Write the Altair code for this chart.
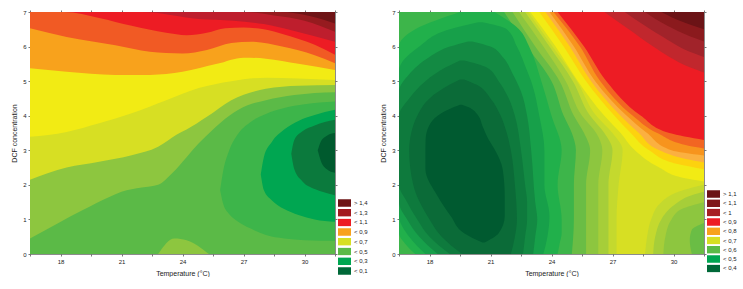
import altair as alt
import pandas as pd

XDOM = [16.5, 31.5]
YDOM = [0, 7]
X_TICKS = [16.5, 18, 19.5, 21, 22.5, 24, 25.5, 27, 28.5, 30, 31.5]
Y_TICKS = [0, 1, 2, 3, 4, 5, 6, 7]

# ---------------- left panel: contour boundaries (temperature -> DCF) ----------
L_LG_X = [16.5, 17.9, 19.1, 20.4, 21.0, 22.0, 22.8, 23.5, 24.2, 24.8, 25.5, 26.3, 27.2, 28.1, 29.5, 31.5]
L_LG_Y = [0.45, 0.9, 1.27, 1.65, 1.8, 1.92, 2.0, 2.34, 2.8, 3.2, 3.6, 4.0, 4.3, 4.45, 4.6, 4.68]
L_TRI_X = [22.8, 23.6, 24.2, 25.3]
L_TRI_Y = [0.0, 0.45, 0.4, 0.0]
L_YG_X = [16.5, 18.3, 19.9, 21.5, 22.8, 23.7, 24.2, 25.2, 26.4, 28.1, 29.7, 31.5]
L_YG_Y = [2.15, 2.5, 2.67, 2.86, 3.1, 3.45, 3.6, 3.97, 4.45, 4.78, 4.87, 4.89]
L_Y_X = [16.5, 18.3, 19.9, 21.5, 23.2, 24.8, 26.4, 28.1, 29.7, 31.5]
L_Y_Y = [3.39, 3.53, 3.78, 4.07, 4.45, 4.8, 5.0, 5.1, 5.08, 5.03]
L_O_X = [16.5, 18.3, 20.7, 22.4, 24.0, 25.7, 27.0, 28.1, 29.7, 31.5]
L_O_Y = [5.37, 5.27, 5.18, 5.18, 5.27, 5.5, 5.68, 5.65, 5.5, 5.32]
L_OR_X = [16.5, 18.3, 20.7, 22.4, 24.0, 25.2, 26.4, 27.4, 28.9, 30.5, 31.5]
L_OR_Y = [6.53, 6.28, 6.04, 5.85, 5.8, 5.9, 6.1, 6.14, 6.0, 5.75, 5.52]
L_R_X = [16.5, 18.2, 19.9, 21.5, 23.2, 24.2, 25.2, 26.1, 27.0, 28.0, 29.0, 30.5, 31.5]
L_R_Y = [7.0, 7.0, 6.83, 6.6, 6.4, 6.33, 6.4, 6.53, 6.55, 6.5, 6.35, 6.05, 5.76]
L_C_X = [16.5, 22.0, 24.8, 26.5, 28.0, 29.5, 31.5]
L_C_Y = [7.0, 7.0, 6.8, 6.75, 6.65, 6.45, 6.14]
L_D1_X = [16.5, 27.0, 28.5, 30.0, 31.5]
L_D1_Y = [7.0, 7.0, 6.9, 6.75, 6.43]
L_D2_X = [16.5, 28.8, 30.3, 31.5]
L_D2_Y = [7.0, 7.0, 6.88, 6.67]
# low-value pockets on the right side (x, lower edge, upper edge)
L_B1_X = [25.85, 26.0, 26.3, 26.7, 27.3, 28.1, 29.0, 30.0, 31.5]
L_B1_LO = [1.85, 1.45, 1.15, 0.95, 0.75, 0.55, 0.45, 0.4, 0.38]
L_B1_HI = [1.85, 2.4, 3.0, 3.45, 3.8, 4.05, 4.22, 4.33, 4.41]
L_B2_X = [27.85, 28.0, 28.4, 29.0, 29.7, 30.5, 31.5]
L_B2_LO = [2.3, 1.85, 1.55, 1.3, 1.13, 1.0, 0.93]
L_B2_HI = [2.3, 2.8, 3.25, 3.6, 3.85, 4.02, 4.17]
L_B3_X = [29.35, 29.5, 29.9, 30.5, 31.0, 31.5]
L_B3_LO = [2.9, 2.45, 2.1, 1.88, 1.78, 1.7]
L_B3_HI = [2.9, 3.3, 3.55, 3.72, 3.82, 3.88]
L_B4_X = [30.65, 30.8, 31.1, 31.5]
L_B4_LO = [3.0, 2.7, 2.45, 2.35]
L_B4_HI = [3.0, 3.25, 3.42, 3.5]

L_LEG_LABELS = ["> 1,4", "< 1,3", "< 1,1", "< 0,9", "< 0,7", "< 0,5", "< 0,3", "< 0,1"]
L_LEG_COLORS = ["#6E1416", "#A3191F", "#ED1C24", "#F8A21C", "#D7DF23", "#5BBA47", "#00A651", "#006838"]

# ---------------- right panel (DCF -> temperature boundaries) -----------------
R_GY = [0, 1, 2, 3, 3.5, 4, 5, 6, 7]
R_K10 = [27.2, 27.2, 27.3, 27.5, 27.0, 26.2, 25.25, 24.05, 22.85]
R_K9 = [26.8, 26.8, 26.8, 27.0, 26.6, 25.9, 25.05, 23.9, 22.7]
R_K8 = [26.3, 26.3, 26.3, 26.5, 26.2, 25.5, 24.7, 23.6, 22.4]
R_K7 = [25.7, 25.7, 25.7, 25.9, 25.6, 25.1, 24.4, 23.2, 22.08]
R_K6 = [25.0, 25.1, 25.1, 25.2, 25.0, 24.6, 24.0, 22.8, 21.67]
R_K5_Y = [0, 0.3, 0.6, 1, 2, 3, 4, 5, 6, 6.5, 7]
R_K5_L = [17.3, 16.8, 16.5, 16.5, 16.5, 16.5, 16.5, 16.5, 16.5, 17.3, 19.5]
R_K5_R = [24.3, 24.4, 24.5, 24.5, 24.3, 24.5, 24.0, 23.5, 22.9, 22.4, 21.2]
R_K4_Y = [0, 0.5, 1.1, 2, 3, 4, 5, 5.3, 6.0, 6.5, 6.7]
R_K4_L = [17.8, 17.0, 16.5, 16.5, 16.5, 16.5, 16.5, 16.5, 17.5, 19.0, 20.4]
R_K4_R = [23.6, 23.8, 23.9, 23.65, 23.65, 23.4, 23.0, 22.8, 22.3, 21.8, 20.6]
R_K3_Y = [0, 0.5, 1.0, 1.5, 3, 4, 4.7, 5.2, 5.7, 6.0, 6.15]
R_K3_L = [18.4, 17.5, 16.9, 16.5, 16.5, 16.5, 16.5, 17.0, 18.0, 19.0, 19.9]
R_K3_R = [23.1, 23.2, 23.3, 23.2, 23.0, 22.8, 22.5, 22.1, 21.6, 21.0, 20.1]
R_K2_Y = [0, 0.5, 1, 1.5, 2, 3, 4, 4.5, 5, 5.4, 5.6]
R_K2_L = [19.0, 18.0, 17.4, 16.9, 16.5, 16.5, 16.5, 17.0, 17.8, 18.8, 19.5]
R_K2_R = [22.6, 22.7, 22.8, 22.8, 22.7, 22.5, 22.2, 21.9, 21.4, 20.8, 19.7]
R_K1_Y = [0, 0.5, 1, 2, 3, 3.5, 4, 4.5, 4.9, 5.05]
R_K1_L = [19.6, 18.6, 18.0, 17.2, 17.0, 17.1, 17.4, 18.0, 19.0, 19.5]
R_K1_R = [22.0, 22.2, 22.3, 22.2, 22.0, 21.8, 21.5, 21.0, 20.3, 19.7]
R_K0_Y = [0.33, 0.6, 1.09, 1.67, 2.45, 3.03, 3.32, 3.71, 4.0, 4.25, 4.32]
R_K0_L = [20.6, 19.7, 19.05, 18.4, 17.8, 17.8, 17.81, 17.98, 18.4, 19.2, 19.5]
R_K0_R = [20.7, 21.4, 21.7, 21.7, 21.6, 21.2, 20.9, 20.6, 20.4, 19.9, 19.6]
# high-value side (left edge of region, region extends to 31.5)
R_YEL_Y = [2.1, 2.2, 2.5, 3.0, 3.5, 4.0, 5.0, 6.0, 7.0]
R_YEL_L = [31.5, 30.5, 29.3, 28.1, 27.4, 26.6, 25.3, 24.2, 22.96]
R_GOLD_Y = [2.45, 2.6, 3.0, 3.5, 4.0, 5.0, 6.0, 7.0]
R_GOLD_L = [31.5, 30.2, 28.8, 27.9, 27.1, 25.7, 24.6, 23.4]
R_LOR_Y = [2.65, 2.75, 3.0, 3.5, 4.0, 5.0, 6.0, 7.0]
R_LOR_L = [31.5, 30.6, 29.3, 28.3, 27.4, 25.95, 24.9, 23.7]
R_ORG_Y = [2.85, 3.0, 3.5, 4.0, 5.0, 6.0, 7.0]
R_ORG_L = [31.5, 29.9, 28.7, 27.7, 26.15, 25.1, 23.9]
R_ORR_Y = [3.05, 3.1, 3.5, 4.0, 5.0, 6.0, 7.0]
R_ORR_L = [31.5, 31.0, 29.2, 28.0, 26.4, 25.4, 24.1]
R_RED_Y = [3.3, 3.5, 4.0, 5.0, 6.0, 7.0]
R_RED_L = [31.5, 29.8, 28.4, 26.7, 25.6, 24.3]
R_D1_Y = [5.25, 5.4, 5.7, 6.0, 6.5, 7.0]
R_D1_L = [31.5, 30.8, 29.8, 29.0, 27.8, 26.6]
R_D2_Y = [5.7, 5.85, 6.2, 6.6, 7.0]
R_D2_L = [31.5, 30.8, 29.7, 28.6, 27.6]
R_D3_Y = [6.15, 6.3, 6.6, 7.0]
R_D3_L = [31.5, 30.8, 29.7, 28.6]
R_D4_Y = [6.5, 6.7, 7.0]
R_D4_L = [31.5, 30.5, 29.4]
# bottom-right pocket
R_P1_Y = [0, 0.5, 1.0, 1.5, 1.85, 2.0]
R_P1_L = [28.6, 28.7, 28.9, 29.4, 30.5, 31.5]
R_P2_Y = [0, 0.5, 1.0, 1.4, 1.7, 1.8]
R_P2_L = [29.0, 29.1, 29.4, 30.0, 30.9, 31.5]
R_P3_Y = [0, 0.5, 1.0, 1.3, 1.5]
R_P3_L = [29.5, 29.6, 29.9, 30.4, 31.5]
R_P4_Y = [0, 0.4, 0.7, 0.9]
R_P4_L = [30.9, 30.8, 30.9, 31.5]

R_LEG_LABELS = ["> 1,1", "< 1,1", "< 1", "< 0,9", "< 0,8", "< 0,7", "< 0,6", "< 0,5", "< 0,4"]
R_LEG_COLORS = ["#6B1316", "#7F171A", "#A61E23", "#ED1C24", "#F8A21C", "#D7DF23", "#5BBA47", "#00A651", "#006838"]

FONT = "Liberation Sans"
xs = alt.Scale(domain=XDOM, nice=False, zero=False)
ys = alt.Scale(domain=YDOM, nice=False, zero=False)


def varea(xv, lo, hi, color):
    df = pd.DataFrame({"t": xv, "lo": lo, "hi": hi})
    return alt.Chart(df).mark_area(color=color, interpolate="monotone", clip=True,
                                   orient="vertical").encode(
        x=alt.X("t:Q", scale=xs, axis=None),
        y=alt.Y("lo:Q", scale=ys, axis=None),
        y2="hi:Q")


def harea(yv, xl, xr, color):
    df = pd.DataFrame({"t": yv, "xl": xl, "xr": xr})
    return alt.Chart(df).mark_area(color=color, interpolate="monotone", clip=True,
                                   orient="horizontal").encode(
        y=alt.Y("t:Q", scale=ys, axis=None),
        x=alt.X("xl:Q", scale=xs, axis=None),
        x2="xr:Q")


def frame_layers(bg_color):
    df = pd.DataFrame({"t": XDOM, "lo": [0, 0], "hi": [7, 7]})
    main = alt.Chart(df).mark_area(color=bg_color, orient="vertical").encode(
        x=alt.X("t:Q", scale=xs, axis=alt.Axis(
            values=X_TICKS, title="Temperature (°C)",
            labelExpr="datum.value % 3 == 0 ? format(datum.value, 'd') : ''",
            labelFlush=False, labelOverlap=False)),
        y=alt.Y("lo:Q", scale=ys, axis=alt.Axis(values=Y_TICKS, format="d",
                                                  title="DCF concentration")),
        y2="hi:Q")
    mirror = alt.Chart(df).mark_area(color=bg_color, orient="vertical", opacity=0).encode(
        x=alt.X("t:Q", scale=xs, axis=alt.Axis(values=X_TICKS, orient="top",
                                                 labels=False, title=None)),
        y=alt.Y("lo:Q", scale=ys, axis=alt.Axis(values=Y_TICKS, orient="right",
                                                  labels=False, title=None)),
        y2="hi:Q")
    return main, mirror


def legend_layer(labels, colors, lx, ly, clip_h, row_pad):
    df = pd.DataFrame({"lab": labels, "px": [24.0] * len(labels), "py": [3.0] * len(labels)})
    return alt.Chart(df).mark_square(filled=True, opacity=1).encode(
        x=alt.X("px:Q", scale=xs, axis=None),
        y=alt.Y("py:Q", scale=ys, axis=None),
        color=alt.Color("lab:N", scale=alt.Scale(domain=labels, range=colors),
                        legend=alt.Legend(
                            title=None, orient="none", legendX=lx, legendY=ly,
                            symbolType="M-1,-0.58H1V0.58H-1Z", symbolSize=169,
                            symbolStrokeWidth=0, symbolOpacity=1, labelFont=FONT,
                            labelFontSize=6, labelColor="#222222", labelOffset=3,
                            clipHeight=clip_h, rowPadding=row_pad, padding=0)))


# ---------------- left chart ----------------
l_main, l_mirror = frame_layers("#5BBA47")
left_layers = [
    legend_layer(L_LEG_LABELS, L_LEG_COLORS, 308, 187, 8, 1.7),
    l_main,
    varea(L_TRI_X, [0] * len(L_TRI_X), L_TRI_Y, "#8DC63F"),
    varea(L_LG_X, L_LG_Y, [7] * len(L_LG_X), "#8DC63F"),
    varea(L_YG_X, L_YG_Y, [7] * len(L_YG_X), "#D7DF23"),
    varea(L_Y_X, L_Y_Y, [7] * len(L_Y_X), "#F2EB14"),
    varea(L_O_X, L_O_Y, [7] * len(L_O_X), "#F8A21C"),
    varea(L_OR_X, L_OR_Y, [7] * len(L_OR_X), "#F15A24"),
    varea(L_R_X, L_R_Y, [7] * len(L_R_X), "#ED1C24"),
    varea(L_C_X, L_C_Y, [7] * len(L_C_X), "#BE1E2D"),
    varea(L_D1_X, L_D1_Y, [7] * len(L_D1_X), "#961B1F"),
    varea(L_D2_X, L_D2_Y, [7] * len(L_D2_X), "#6E1416"),
    varea(L_B1_X, L_B1_LO, L_B1_HI, "#3DB54A"),
    varea(L_B2_X, L_B2_LO, L_B2_HI, "#00A651"),
    varea(L_B3_X, L_B3_LO, L_B3_HI, "#0B7A3D"),
    varea(L_B4_X, L_B4_LO, L_B4_HI, "#005A2E"),
    l_mirror,
]
left = alt.layer(*left_layers).resolve_axis(x="independent", y="independent").properties(
    width=305, height=242)

# ---------------- right chart ----------------
r_main, r_mirror = frame_layers("#D7DF23")
right_layers = [
    legend_layer(R_LEG_LABELS, R_LEG_COLORS, 308, 178, 8, 1.3),
    r_main,
    harea(R_GY, [16.5] * len(R_GY), R_K10, "#C4D92E"),
    harea(R_GY, [16.5] * len(R_GY), R_K9, "#A6CE39"),
    harea(R_GY, [16.5] * len(R_GY), R_K8, "#8DC63F"),
    harea(R_GY, [16.5] * len(R_GY), R_K7, "#6ABD45"),
    harea(R_GY, [16.5] * len(R_GY), R_K6, "#3DB54A"),
    harea(R_K5_Y, R_K5_L, R_K5_R, "#21B04B"),
    harea(R_K4_Y, R_K4_L, R_K4_R, "#17A04A"),
    harea(R_K3_Y, R_K3_L, R_K3_R, "#138A43"),
    harea(R_K2_Y, R_K2_L, R_K2_R, "#0E7A3D"),
    harea(R_K1_Y, R_K1_L, R_K1_R, "#0B6B38"),
    harea(R_K0_Y, R_K0_L, R_K0_R, "#005A30"),
    harea(R_YEL_Y, R_YEL_L, [31.5] * len(R_YEL_Y), "#F2EB14"),
    harea(R_GOLD_Y, R_GOLD_L, [31.5] * len(R_GOLD_Y), "#FDD20E"),
    harea(R_LOR_Y, R_LOR_L, [31.5] * len(R_LOR_Y), "#FBB040"),
    harea(R_ORG_Y, R_ORG_L, [31.5] * len(R_ORG_Y), "#F7941D"),
    harea(R_ORR_Y, R_ORR_L, [31.5] * len(R_ORR_Y), "#F26522"),
    harea(R_RED_Y, R_RED_L, [31.5] * len(R_RED_Y), "#ED1C24"),
    harea(R_D1_Y, R_D1_L, [31.5] * len(R_D1_Y), "#C1272D"),
    harea(R_D2_Y, R_D2_L, [31.5] * len(R_D2_Y), "#A1232A"),
    harea(R_D3_Y, R_D3_L, [31.5] * len(R_D3_Y), "#8B1A1D"),
    harea(R_D4_Y, R_D4_L, [31.5] * len(R_D4_Y), "#6B1316"),
    harea(R_P1_Y, R_P1_L, [31.5] * len(R_P1_Y), "#C4D92E"),
    harea(R_P2_Y, R_P2_L, [31.5] * len(R_P2_Y), "#A6CE39"),
    harea(R_P3_Y, R_P3_L, [31.5] * len(R_P3_Y), "#8DC63F"),
    harea(R_P4_Y, R_P4_L, [31.5] * len(R_P4_Y), "#6ABD45"),
    r_mirror,
]
right = alt.layer(*right_layers).resolve_axis(x="independent", y="independent").properties(
    width=305, height=242)

chart = alt.hconcat(left, right, spacing=10).resolve_scale(color="independent").properties(
    padding={"left": 10, "top": 8, "right": 0, "bottom": 0}
).configure_view(stroke="#8c8c8c", strokeWidth=1).configure_axis(
    grid=False, domain=False, tickSize=2, tickColor="#555555", tickWidth=0.8,
    labelFont=FONT, labelFontSize=6, labelColor="#222222", labelPadding=2,
    titleFont=FONT, titleFontSize=7, titleFontWeight="normal", titleColor="#222222",
    titlePadding=5
)

chart.save("out.html", embed_options={"renderer": "svg", "actions": False})
